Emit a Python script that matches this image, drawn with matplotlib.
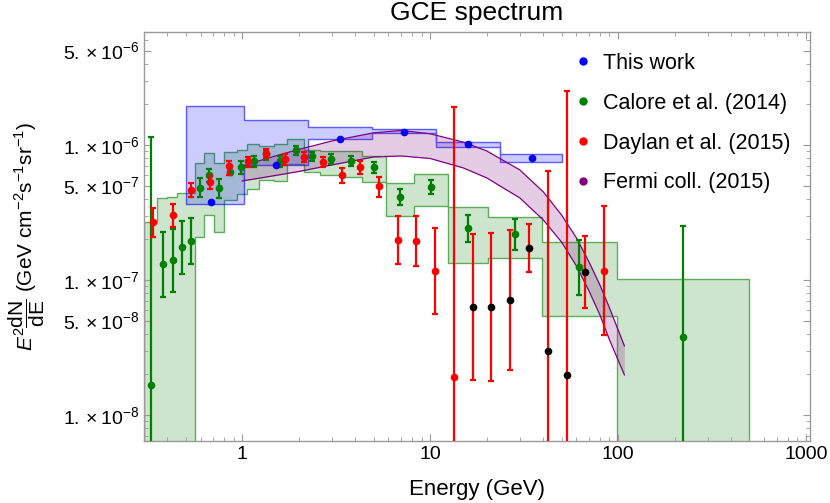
import matplotlib.pyplot as plt
import numpy as np
from matplotlib.lines import Line2D
from matplotlib.ticker import FixedLocator, FixedFormatter, LogLocator, NullFormatter

plt.rcParams['font.family'] = ['Liberation Sans', 'DejaVu Sans']
plt.rcParams['mathtext.fontset'] = 'custom'
plt.rcParams['mathtext.rm'] = 'Liberation Sans'
plt.rcParams['mathtext.it'] = 'Liberation Sans:italic'
plt.rcParams['mathtext.bf'] = 'Liberation Sans:bold'

# --- This work: step band + points
tw_edges = [0.5, 1.02, 2.24, 4.9, 10.8, 23.6, 50.2]
tw_band_hi = [1.93e-6, 1.53e-6, 1.37e-6, 1.31e-6, 1.06e-6, 8.53e-7]
tw_band_lo = [3.64e-7, 7.11e-7, 1.10e-6, 1.22e-6, 9.6e-7, 7.44e-7]
tw_E = [0.684, 1.52, 3.32, 7.27, 15.9, 34.9]
tw_val = [3.8e-7, 7.1e-7, 1.10e-6, 1.24e-6, 1.02e-6, 8.0e-7]

# --- Calore et al. (2014): systematic band + points with stat errors
cal_edges = [0.3, 0.352, 0.398, 0.449, 0.502, 0.558, 0.628, 0.704, 0.802, 0.937,
             1.059, 1.221, 1.467, 1.729, 2.12, 2.60, 3.32, 4.33, 5.80, 8.25,
             12.4, 20.4, 39.3, 99.1, 497]
cal_band_hi = [2.69e-7, 4.02e-7, 4.09e-7, 4.41e-7, 4.41e-7, 7.36e-7, 8.65e-7, 7.32e-7,
               8.88e-7, 9.18e-7, 1.017e-6, 9.75e-7, 1.017e-6, 1.10e-6, 9.18e-7, 9.03e-7,
               8.95e-7, 8.33e-7, 5.23e-7, 6.10e-7, 3.47e-7, 2.91e-7, 1.92e-7, 1.02e-7]
cal_band_lo = [1e-10, 1e-10, 1e-10, 1e-10, 1e-10, 2.07e-7, 3.03e-7, 2.25e-7,
               3.92e-7, 4.33e-7, 4.72e-7, 5.51e-7, 5.41e-7, 7.23e-7, 6.34e-7, 6.0e-7,
               5.80e-7, 5.35e-7, 2.96e-7, 3.53e-7, 1.33e-7, 1.45e-7, 5.44e-8, 1e-10]
cal_E = [0.325, 0.377, 0.426, 0.475, 0.531, 0.593, 0.667, 0.755, 0.856, 0.988,
         1.148, 1.34, 1.59, 1.92, 2.36, 2.95, 3.79, 5.04, 6.93, 10.1,
         15.9, 28.4, 62.3, 222]
cal_val = [1.67e-8, 1.31e-7, 1.41e-7, 1.75e-7, 1.94e-7, 4.80e-7, 6.0e-7, 4.80e-7,
           6.28e-7, 6.87e-7, 7.61e-7, 8.5e-7, 7.55e-7, 9.10e-7, 8.29e-7, 7.88e-7,
           7.65e-7, 6.84e-7, 4.14e-7, 4.87e-7, 2.42e-7, 2.18e-7, 1.24e-7, 3.77e-8]
cal_hi = [1.15e-6, 2.28e-7, 2.40e-7, 2.75e-7, 2.88e-7, 5.67e-7, 6.64e-7, 5.60e-7,
          6.91e-7, 7.65e-7, 8.29e-7, 9.2e-7, 8.29e-7, 9.83e-7, 8.92e-7, 8.53e-7,
          8.29e-7, 7.49e-7, 4.72e-7, 5.51e-7, 3.03e-7, 2.83e-7, 1.98e-7, 2.52e-7]
cal_lo = [1e-10, 7.45e-8, 8.19e-8, 1.11e-7, 1.31e-7, 4.10e-7, 5.32e-7, 4.05e-7,
          6.0e-7, 6.12e-7, 6.91e-7, 7.8e-7, 6.87e-7, 8.43e-7, 7.61e-7, 7.23e-7,
          7.03e-7, 6.23e-7, 3.59e-7, 4.31e-7, 1.91e-7, 1.67e-7, 7.74e-8, 1e-10]

# --- Daylan et al. (2015)
day_E = [0.337, 0.426, 0.536, 0.673, 0.846, 1.067, 1.342, 1.693, 2.129, 2.674,
         3.374, 4.243, 5.336, 6.701, 8.424, 10.63, 13.37, 16.83, 21.18, 26.65,
         33.62, 42.27, 53.33, 66.99, 84.25]
day_val = [2.68e-7, 3.03e-7, 4.64e-7, 5.32e-7, 6.99e-7, 7.55e-7, 8.68e-7, 7.81e-7,
           8.19e-7, 7.48e-7, 5.96e-7, 6.81e-7, 4.94e-7, 1.98e-7, 1.94e-7, 1.16e-7,
           1.92e-8, 6.28e-8, 6.28e-8, 7.11e-8, 1.73e-7, 2.98e-8, 1.98e-8, 1.15e-7, 1.17e-7]
day_hi = [3.43e-7, 3.66e-7, 5.26e-7, 5.86e-7, 7.61e-7, 8.19e-7, 9.34e-7, 8.53e-7,
          8.92e-7, 8.19e-7, 6.72e-7, 7.65e-7, 5.82e-7, 2.98e-7, 2.98e-7, 2.42e-7,
          1.92e-6, 2.18e-7, 2.22e-7, 2.34e-7, 2.60e-7, 6.42e-7, 2.52e-6, 2.13e-7, 3.53e-7]
day_lo = [2.07e-7, 2.48e-7, 4.10e-7, 4.72e-7, 6.0e-7, 6.91e-7, 7.97e-7, 7.11e-7,
          7.52e-7, 6.84e-7, 5.26e-7, 6.07e-7, 4.14e-7, 1.31e-7, 1.27e-7, 5.57e-8,
          1e-10, 1.82e-8, 1.79e-8, 2.15e-8, 1.15e-7, 1e-10, 1e-10, 6.17e-8, 3.92e-8]
day_black = [False] * 17 + [True] * 7 + [False]

# --- Fermi coll. (2015) band
fermi_E = [1, 1.5, 2, 3, 5, 7, 10, 15, 20, 30, 40, 50, 60, 70, 80, 90, 108]
fermi_hi = [6.99e-7, 8.29e-7, 9.26e-7, 1.07e-6, 1.23e-6, 1.28e-6, 1.21e-6, 1.05e-6,
            9.03e-7, 6.53e-7, 4.49e-7, 3.03e-7, 2.05e-7, 1.36e-7, 9.18e-8, 6.20e-8, 3.25e-8]
fermi_lo = [5.41e-7, 5.94e-7, 6.36e-7, 7.11e-7, 8.15e-7, 8.29e-7, 7.94e-7, 6.76e-7,
            5.70e-7, 4.05e-7, 2.78e-7, 1.91e-7, 1.27e-7, 8.29e-8, 5.51e-8, 3.60e-8, 1.98e-8]

x_ticks = [1, 10, 100, 1000]
x_labels = ['1', '10', '100', '1000']
y_ticks = [1e-8, 5e-8, 1e-7, 5e-7, 1e-6, 5e-6]
y_labels = [r'$1.\times10^{-8}$', r'$5.\times10^{-8}$', r'$1.\times10^{-7}$',
            r'$5.\times10^{-7}$', r'$1.\times10^{-6}$', r'$5.\times10^{-6}$']

blue = (0, 0, 1)
green = (0, 0.5, 0)
red = (1, 0, 0)
purple = (0.5, 0, 0.5)

fig = plt.figure(figsize=(8.3, 5.03), dpi=100)
ax = fig.add_axes([0.1735, 0.1233, 0.8024, 0.8131])
ax.set_xscale('log')
ax.set_yscale('log')

ax.stairs(cal_band_hi, cal_edges, baseline=cal_band_lo, fill=True,
          facecolor=(0, 0.5, 0, 0.2), edgecolor=(0, 0.5, 0, 0.6), lw=1, zorder=1)
ax.stairs(tw_band_hi, tw_edges, baseline=tw_band_lo, fill=True,
          facecolor=(0, 0, 1, 0.2), edgecolor=(0, 0, 1, 0.6), lw=1, zorder=2)
ax.fill_between(fermi_E, fermi_lo, fermi_hi, color=purple, alpha=0.2, lw=0, zorder=3)
ax.plot(fermi_E, fermi_hi, color=purple, lw=0.9, zorder=3)
ax.plot(fermi_E, fermi_lo, color=purple, lw=0.9, zorder=3)

cal_val = np.array(cal_val)
ax.errorbar(cal_E, cal_val, yerr=[cal_val - np.array(cal_lo), np.array(cal_hi) - cal_val],
            fmt='o', color=green, ms=4.5, lw=1.6, capsize=2.5, capthick=1.6, zorder=5)

day_val = np.array(day_val)
day_E = np.array(day_E)
black = np.array(day_black)
ax.errorbar(day_E, day_val, yerr=[day_val - np.array(day_lo), np.array(day_hi) - day_val],
            fmt='none', ecolor=red, lw=1.6, capsize=2.5, capthick=1.6, zorder=6)
ax.plot(day_E[~black], day_val[~black], 'o', color=red, ms=4.5, zorder=7)
ax.plot(day_E[black], day_val[black], 'o', color='black', ms=4.5, zorder=7)

ax.plot(tw_E, tw_val, 'o', color=blue, ms=4.5, zorder=8)

ax.set_xlim(0.3, 1050)
ax.set_ylim(6.41e-9, 6.87e-6)

ax.xaxis.set_major_locator(FixedLocator(x_ticks))
ax.xaxis.set_major_formatter(FixedFormatter(x_labels))
ax.xaxis.set_minor_locator(LogLocator(base=10, subs=np.arange(2, 10), numticks=20))
ax.xaxis.set_minor_formatter(NullFormatter())
ax.yaxis.set_major_locator(FixedLocator(y_ticks))
ax.yaxis.set_major_formatter(FixedFormatter(y_labels))
ax.yaxis.set_minor_locator(LogLocator(base=10, subs=np.arange(1, 10), numticks=20))
ax.yaxis.set_minor_formatter(NullFormatter())
ax.tick_params(which='both', direction='in', top=True, right=True, color='#999999', labelsize=14)
ax.tick_params(which='major', length=5)
ax.tick_params(which='minor', length=3)
for s in ax.spines.values():
    s.set_color('#999999')
    s.set_linewidth(1)

handles = [Line2D([], [], ls='none', marker='o', color=c, ms=5) for c in [blue, green, red, purple]]
ax.legend(handles, ['This work', 'Calore et al. (2014)', 'Daylan et al. (2015)', 'Fermi coll. (2015)'],
          loc='upper left', bbox_to_anchor=(0.643, 0.949), frameon=False, fontsize=15.5,
          handlelength=1, handletextpad=0.45, labelspacing=0.875, borderaxespad=0, borderpad=0)

fig.text(477 / 830, 1 - 13 / 503, 'GCE spectrum', ha='center', va='center', fontsize=19)
fig.text(477 / 830, 1 - 490 / 503, 'Energy (GeV)', ha='center', va='center', fontsize=16)
fig.text(27 / 830, 1 - 236 / 503,
         r'$E^2\dfrac{\mathrm{dN}}{\mathrm{dE}}$ (GeV cm$^{-2}$s$^{-1}$sr$^{-1}$)',
         ha='center', va='center', rotation=90, fontsize=15)

plt.savefig('out.png', dpi=100)
